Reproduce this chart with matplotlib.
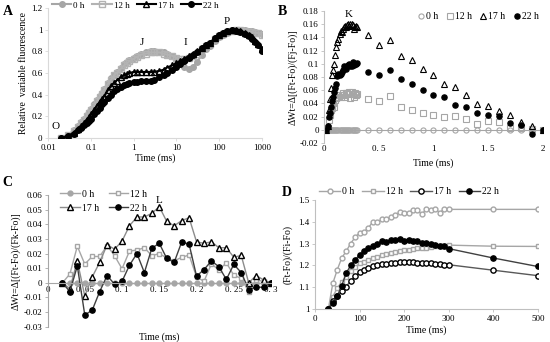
import matplotlib
matplotlib.use('Agg')
import matplotlib.pyplot as plt

plt.rcParams['font.family'] = ['Liberation Serif', 'DejaVu Serif']
plt.rcParams['font.size'] = 6.5
plt.rcParams['axes.unicode_minus'] = False

GREY = '#a6a6a6'
LIGHT = '#bfbfbf'

# ---- panel A: OJIP transients ----
t_a = [0.02, 0.03, 0.04, 0.05, 0.06, 0.07, 0.08, 0.09, 0.1, 0.12, 0.14, 0.16, 0.18, 0.2,
       0.25, 0.3, 0.35, 0.4, 0.5, 0.6, 0.7, 0.8, 1, 1.2, 1.5, 2, 2.5, 3, 4, 5, 6, 8, 10,
       12, 15, 20, 25, 30, 40, 50, 60, 80, 100, 120, 150, 200, 250, 300, 400, 500, 600,
       700, 800, 1000]
a_0h = [0, 0.03, 0.07, 0.11, 0.15, 0.18, 0.21, 0.24, 0.27, 0.31, 0.35, 0.39, 0.42, 0.45,
        0.51, 0.55, 0.58, 0.61, 0.65, 0.68, 0.70, 0.72, 0.74, 0.76, 0.78, 0.79, 0.80, 0.80,
        0.795, 0.79, 0.78, 0.76, 0.73, 0.70, 0.66, 0.64, 0.66, 0.70, 0.77, 0.82, 0.85, 0.90,
        0.93, 0.95, 0.97, 0.99, 1.0, 1.0, 1.0, 0.99, 0.99, 0.98, 0.97, 0.96]
a_12h = [0, 0.03, 0.06, 0.10, 0.14, 0.17, 0.20, 0.23, 0.26, 0.30, 0.34, 0.38, 0.41, 0.44,
         0.50, 0.54, 0.58, 0.60, 0.64, 0.67, 0.69, 0.71, 0.73, 0.75, 0.77, 0.78, 0.79, 0.79,
         0.79, 0.78, 0.77, 0.76, 0.74, 0.73, 0.73, 0.74, 0.76, 0.78, 0.82, 0.85, 0.87, 0.91,
         0.94, 0.96, 0.98, 0.99, 1.0, 1.0, 0.99, 0.98, 0.98, 0.97, 0.97, 0.95]
a_17h = [0, 0.02, 0.05, 0.08, 0.11, 0.14, 0.17, 0.19, 0.22, 0.26, 0.30, 0.33, 0.36, 0.38,
         0.44, 0.48, 0.51, 0.53, 0.56, 0.58, 0.59, 0.60, 0.61, 0.61, 0.61, 0.61, 0.61, 0.61,
         0.62, 0.63, 0.65, 0.67, 0.69, 0.71, 0.73, 0.76, 0.78, 0.80, 0.83, 0.86, 0.88, 0.92,
         0.95, 0.97, 0.99, 1.0, 1.0, 0.99, 0.97, 0.95, 0.93, 0.90, 0.87, 0.82]
a_22h = [0, 0.02, 0.04, 0.07, 0.09, 0.12, 0.14, 0.16, 0.18, 0.22, 0.25, 0.28, 0.31, 0.33,
         0.37, 0.40, 0.43, 0.45, 0.47, 0.49, 0.50, 0.51, 0.52, 0.52, 0.53, 0.53, 0.53, 0.54,
         0.56, 0.58, 0.60, 0.63, 0.66, 0.68, 0.71, 0.74, 0.77, 0.79, 0.83, 0.86, 0.88, 0.92,
         0.95, 0.97, 0.99, 1.0, 0.99, 0.98, 0.96, 0.94, 0.91, 0.89, 0.86, 0.80]

# ---- panel B: delta W (K band) ----
t_b = [0.02, 0.03, 0.04, 0.05, 0.06, 0.07, 0.08, 0.09, 0.10, 0.11, 0.12, 0.13, 0.14, 0.15,
       0.16, 0.17, 0.18, 0.19, 0.20, 0.21, 0.22, 0.23, 0.24, 0.25, 0.26, 0.27, 0.28, 0.29,
       0.30, 0.4, 0.5, 0.6, 0.7, 0.8, 0.9, 1.0, 1.1, 1.2, 1.3, 1.4, 1.5, 1.6, 1.7, 1.8, 1.9, 2.0]
b_0h = [0] * len(t_b)
b_12h = [0, 0.003, 0.015, 0.022, 0.03, 0.033, 0.04, 0.035, 0.045, 0.048,
         0.05, 0.049, 0.052, 0.05, 0.053, 0.055, 0.052, 0.05, 0.055, 0.056,
         0.054, 0.057, 0.048, 0.058, 0.054, 0.05, 0.055, 0.053, 0.054,
         0.046, 0.043, 0.051, 0.035, 0.03, 0.026, 0.023, 0.02, 0.021, 0.017,
         0.009, 0.014, 0.012, 0.002, 0.003, 0.001, 0]
b_17h = [0, 0.005, 0.03, 0.047, 0.063, 0.083, 0.09, 0.1, 0.114, 0.125,
         0.133, 0.137, 0.145, 0.15, 0.148, 0.152, 0.155, 0.157, 0.155, 0.158,
         0.16, 0.157, 0.16, 0.161, 0.158, 0.152, 0.155, 0.157, 0.155,
         0.143, 0.128, 0.136, 0.112, 0.105, 0.092, 0.083, 0.069, 0.065, 0.053,
         0.039, 0.036, 0.028, 0.022, 0.012, 0.006, 0]
b_22h = [0, 0.005, 0.02, 0.025, 0.035, 0.043, 0.05, 0.058, 0.063, 0.07,
         0.082, 0.085, 0.083, 0.085, 0.088, 0.09, 0.097, 0.095, 0.092, 0.097,
         0.098, 0.1, 0.096, 0.097, 0.102, 0.098, 0.1, 0.1, 0.101,
         0.088, 0.083, 0.091, 0.077, 0.069, 0.061, 0.053, 0.049, 0.037, 0.035,
         0.025, 0.022, 0.021, 0.01, 0.008, -0.006, 0]

# ---- panel C: delta W (L band) ----
t_c = [0.02, 0.03, 0.04, 0.05, 0.06, 0.07, 0.08, 0.09, 0.10, 0.11, 0.12, 0.13, 0.14, 0.15,
       0.16, 0.17, 0.18, 0.19, 0.20, 0.21, 0.22, 0.23, 0.24, 0.25, 0.26, 0.27, 0.28, 0.29, 0.30]
c_0h = [0] * len(t_c)
c_12h = [0, 0.006, 0.025, 0.0128, 0.018, 0.018, 0.0255, 0.0185, 0.0096, 0.0217,
         0.0224, 0.024, 0.0185, 0.02, 0.017, 0.015, 0.0174, 0.019, 0.004, 0.001,
         0.013, 0.0087, 0.0137, 0.0052, 0.003, -0.006, 0.002, 0.001, 0]
c_17h = [0, -0.004, 0.015, -0.009, 0.004, 0.014, 0.026, 0.023, 0.0285, 0.039,
         0.045, 0.045, 0.0475, 0.052, 0.042, 0.039, 0.0425, 0.0445, 0.028, 0.027,
         0.028, 0.024, 0.024, 0.0175, 0.0187, 0, 0.005, 0.002, 0]
c_22h = [0, -0.006, 0.0115, -0.022, -0.0187, -0.006, 0.005, -0.001, 0.001, 0.012,
         0.02, 0.007, 0.0237, 0.027, 0.0167, 0.014, 0.0278, 0.0265, 0.0046, 0.009,
         0.015, 0.011, 0.0023, 0.0126, 0.007, -0.0046, -0.003, -0.003, 0]

# ---- panel D: (Ft-Fo)/(Fi-Fo) ----
t_d = [30, 40, 50, 60, 70, 80, 90, 100, 110, 120, 130, 140, 150, 160, 170, 180, 190, 200,
       210, 220, 230, 240, 250, 260, 270, 280, 290, 300, 400, 500]
d_0h = [1.0, 1.118, 1.18, 1.234, 1.265, 1.30, 1.329, 1.349, 1.352, 1.373, 1.40, 1.398,
        1.411, 1.413, 1.422, 1.431, 1.445, 1.442, 1.442, 1.453, 1.454, 1.434, 1.459, 1.454,
        1.459, 1.442, 1.457, 1.457, 1.457, 1.457]
d_12h = [1.0, 1.057, 1.096, 1.125, 1.148, 1.173, 1.191, 1.209, 1.215, 1.225, 1.235, 1.24,
         1.246, 1.252, 1.255, 1.26, 1.265, 1.27, 1.272, 1.275, 1.278, 1.28, 1.282, 1.285,
         1.287, 1.288, 1.29, 1.293, 1.288, 1.287]
d_17h = [1.0, 1.038, 1.06, 1.081, 1.102, 1.13, 1.15, 1.168, 1.178, 1.188, 1.195, 1.2,
         1.205, 1.208, 1.212, 1.213, 1.214, 1.214, 1.215, 1.214, 1.213, 1.212, 1.21, 1.21,
         1.208, 1.205, 1.203, 1.203, 1.178, 1.153]
d_22h = [1.0, 1.026, 1.06, 1.107, 1.164, 1.2, 1.225, 1.248, 1.265, 1.28, 1.29, 1.30,
         1.31, 1.306, 1.315, 1.318, 1.32, 1.313, 1.315, 1.31, 1.31, 1.305, 1.303, 1.298,
         1.295, 1.29, 1.29, 1.277, 1.234, 1.195]

labels = ['0 h', '12 h', '17 h', '22 h']


def style(ax, spine_col=LIGHT):
    for s in ['top', 'right']:
        ax.spines[s].set_visible(False)
    for s in ['left', 'bottom']:
        ax.spines[s].set_color(spine_col)
        ax.spines[s].set_linewidth(0.8)
    ax.tick_params(length=2.5, width=0.6, color=spine_col, labelsize=6.5, pad=1.5)


fig = plt.figure(figsize=(5.5, 3.42), dpi=100)

# A
axA = fig.add_axes([0.0873, 0.5965, 0.389, 0.380])
axA.plot(t_a, a_0h, '-o', color=GREY, ms=4, lw=1.5, label=labels[0], zorder=2)
axA.plot(t_a, a_12h, '-s', color='#b3b3b3', mfc='none', mec='#b3b3b3', ms=4, lw=1.5,
         label=labels[1], zorder=2)
axA.plot(t_a, a_17h, '-^', color='black', mfc='none', ms=4, lw=1.5, label=labels[2], zorder=3)
axA.plot(t_a, a_22h, '-o', color='black', ms=4, lw=1.5, label=labels[3], zorder=3)
axA.set_xscale('log')
axA.set_xlim(0.01, 1000)
axA.set_ylim(0, 1.2)
axA.set_xticks([0.01, 0.1, 1, 10, 100, 1000])
axA.set_xticklabels(['0.01', '0.1', '1', '10', '100', '1000'])
axA.minorticks_off()
axA.set_yticks([0, 0.2, 0.4, 0.6, 0.8, 1.0, 1.2])
axA.set_yticklabels(['0', '0.2', '0.4', '0.6', '0.8', '1', '1.2'])
style(axA, '#d9d9d9')
axA.set_xlabel('Time (ms)', fontsize=7, labelpad=1)
axA.set_ylabel('Relative  variable fluorescence', fontsize=7, labelpad=2)
for txt, x, y in [('O', 0.015, 0.06), ('J', 1.6, 0.84), ('I', 16, 0.84), ('P', 150, 1.03)]:
    axA.text(x, y, txt, fontsize=8, ha='center', va='bottom')
axA.legend(loc='upper left', bbox_to_anchor=(0.0, 1.08), ncol=4, frameon=False, fontsize=6.5,
           handlelength=2.2, columnspacing=0.8, handletextpad=0.2, borderaxespad=0)

# B
axB = fig.add_axes([0.5896, 0.5819, 0.397, 0.386])
axB.plot(t_b, b_0h, 'o', color=GREY, mfc='none', ms=3.7, mew=0.8, label=labels[0])
axB.plot(t_b, b_12h, 's', color=GREY, mfc='none', ms=3.7, mew=0.8, label=labels[1])
axB.plot(t_b, b_17h, '^', color='black', mfc='none', ms=3.7, mew=0.8, label=labels[2])
axB.plot(t_b, b_22h, 'o', color='black', ms=3.7, label=labels[3])
axB.axhline(0, color=GREY, lw=0.8, zorder=0)
axB.set_xlim(0, 2)
axB.set_ylim(-0.02, 0.18)
axB.set_xticks([0, 0.5, 1, 1.5, 2])
axB.set_xticklabels(['0', '0. 5', '1', '1. 5', '2'])
axB.set_yticks([-0.02, 0, 0.02, 0.04, 0.06, 0.08, 0.1, 0.12, 0.14, 0.16, 0.18])
axB.set_yticklabels(['-0.02', '0', '0.02', '0.04', '0.06', '0.08', '0.1', '0.12', '0.14',
                     '0.16', '0.18'])
style(axB)
axB.spines['bottom'].set_visible(False)
axB.tick_params(axis='x', length=0)
axB.set_xlabel('Time (ms)', fontsize=7, labelpad=4)
axB.set_ylabel('ΔWt=Δ[(Ft-Fo)/(Fj-Fo)]', fontsize=7, labelpad=2)
axB.text(0.22, 0.168, 'K', fontsize=8, ha='center', va='bottom')
axB.legend(loc='upper right', bbox_to_anchor=(1.0, 1.02), ncol=4, frameon=False,
           fontsize=7, handlelength=0.6, columnspacing=0.9, handletextpad=0.2,
           borderaxespad=0)

# C
axC = fig.add_axes([0.0864, 0.0447, 0.4064, 0.385])
h0, = axC.plot(t_c, c_0h, '-o', color=GREY, mfc=GREY, mec=GREY, ms=3.5, lw=1.0)
h12, = axC.plot(t_c, c_12h, '-s', color=GREY, mfc='white', mec=GREY, ms=3.5, lw=1.0)
h17, = axC.plot(t_c, c_17h, '-^', color='#8c8c8c', mfc='white', mec='black', ms=3.8, lw=1.0)
h22, = axC.plot(t_c, c_22h, '-o', color='#404040', mfc='black', mec='black', ms=3.8, lw=1.0)
axC.set_xlim(0, 0.3)
axC.set_ylim(-0.03, 0.06)
axC.spines['bottom'].set_position(('data', 0))
axC.set_xticks([0, 0.05, 0.1, 0.15, 0.2, 0.25, 0.3])
axC.set_xticklabels(['0', '0. 05', '0. 1', '0. 15', '0. 2', '0. 25', '0. 3'])
axC.set_yticks([-0.03, -0.02, -0.01, 0, 0.01, 0.02, 0.03, 0.04, 0.05, 0.06])
axC.set_yticklabels(['-0.03', '-0.02', '-0.01', '0', '0.01', '0.02', '0.03', '0.04', '0.05',
                     '0.06'])
style(axC, '#a6a6a6')
axC.tick_params(axis='x', length=0, pad=2)
axC.set_xlabel('Time (ms)', fontsize=7)
axC.xaxis.set_label_coords(0.5, -0.04)
axC.set_ylabel('ΔWt=Δ[(Ft-Fo)/(Fk-Fo)]', fontsize=7, labelpad=2)
axC.text(0.15, 0.0535, 'L', fontsize=8, ha='center', va='bottom')
# column-major fill: order so rows read 0 h, 12 h / 17 h, 22 h
axC.legend([h0, h17, h12, h22], [labels[0], labels[2], labels[1], labels[3]],
           loc='upper left', bbox_to_anchor=(0.04, 1.07), ncol=2, frameon=False,
           fontsize=7, handlelength=2.0, columnspacing=1.0, handletextpad=0.2,
           labelspacing=0.5, borderaxespad=0)

# D
axD = fig.add_axes([0.5727, 0.0965, 0.405, 0.3187])
axD.plot(t_d, d_0h, '-o', color=GREY, mfc='white', mec=GREY, ms=3.5, lw=1.0, label=labels[0])
axD.plot(t_d, d_12h, '-s', color=GREY, mfc='white', mec=GREY, ms=3.5, lw=1.0, label=labels[1])
axD.plot(t_d, d_17h, '-o', color='#595959', mfc='white', mec='black', ms=3.8, mew=1.0,
         lw=1.0, label=labels[2])
axD.plot(t_d, d_22h, '-o', color='#404040', mfc='black', mec='black', ms=3.8, lw=1.0,
         label=labels[3])
axD.set_xlim(0, 500)
axD.set_ylim(1, 1.5)
axD.set_xticks([0, 100, 200, 300, 400, 500])
axD.set_yticks([1, 1.1, 1.2, 1.3, 1.4, 1.5])
axD.set_yticklabels(['1', '1.1', '1.2', '1.3', '1.4', '1.5'])
style(axD, '#bfbfbf')
axD.set_xlabel('Time (ms)', fontsize=7, labelpad=2)
axD.set_ylabel('(Ft-Fo)/(Fi-Fo)', fontsize=7, labelpad=4)
axD.legend(loc='lower left', bbox_to_anchor=(0.0, 1.0), ncol=4, frameon=False, fontsize=7,
           handlelength=2.2, columnspacing=0.8, handletextpad=0.2, borderaxespad=0)

for txt, x, y in [('A', 0.005, 0.985), ('B', 0.505, 0.985), ('C', 0.005, 0.485),
                  ('D', 0.512, 0.455)]:
    fig.text(x, y, txt, fontsize=10, fontweight='bold', ha='left', va='top')

fig.savefig('out.png', dpi=100)
